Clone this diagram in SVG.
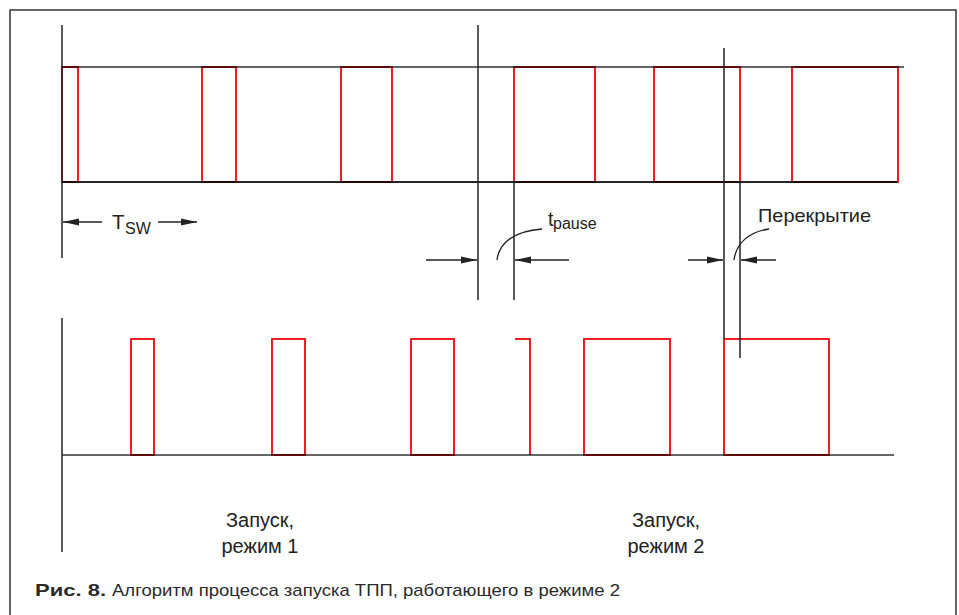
<svg xmlns="http://www.w3.org/2000/svg" width="959" height="615" viewBox="0 0 959 615">
<defs>
<style>
.frame{fill:none;stroke:#333;stroke-width:1.5}
.ax{fill:none;stroke:#222;stroke-width:1.5}
.hl{fill:none;stroke:#000;stroke-width:2;stroke-opacity:0.6}
.hd{fill:none;stroke:#000;stroke-width:1.8;stroke-opacity:0.85}
.p{fill:none;stroke:#ee1c25;stroke-width:2}
.dim{fill:none;stroke:#222;stroke-width:1.3}
.arr{fill:none;stroke:#222;stroke-width:1.3;marker-end:url(#ah)}
.t{font-family:"Liberation Sans",Arial,sans-serif;fill:#222}
.cap{font-family:"Liberation Sans",Arial,sans-serif;fill:#2a2a2a}
</style>
<marker id="ah" markerUnits="userSpaceOnUse" markerWidth="16" markerHeight="8" refX="16" refY="4" orient="auto">
<path d="M0,0.5 L16,4 L0,7.5 z" fill="#222"/>
</marker>
</defs>
<rect class="frame" x="10" y="10" width="946" height="640"/>
<g id="top-signal">
<rect class="p" x="62" y="67" width="16" height="115"/>
<rect class="p" x="202" y="67" width="34" height="115"/>
<rect class="p" x="341" y="67" width="51" height="115"/>
<rect class="p" x="514" y="67" width="81" height="115"/>
<rect class="p" x="654" y="67" width="86" height="115"/>
<rect class="p" x="792" y="67" width="106" height="115"/>
<line class="hl" x1="62" y1="67" x2="904" y2="67"/>
<line class="hd" x1="62" y1="182" x2="897" y2="182"/>
</g>
<g id="bottom-signal">
<rect class="p" x="131" y="339" width="23" height="116"/>
<rect class="p" x="272" y="339" width="33" height="116"/>
<rect class="p" x="411" y="339" width="43" height="116"/>
<path class="p" d="M515,339 L530,339 L530,455"/>
<rect class="p" x="584" y="339" width="86" height="116"/>
<rect class="p" x="724" y="339" width="105" height="116"/>
<line class="hl" x1="62" y1="455" x2="894" y2="455"/>
</g>
<g id="connectors">
<line class="ax" x1="62" y1="25" x2="62" y2="258"/>
<line class="ax" x1="62" y1="318" x2="62" y2="552"/>
<line class="ax" x1="478" y1="25" x2="478" y2="300"/>
<line class="ax" x1="514" y1="182" x2="514" y2="300"/>
<line class="ax" x1="724" y1="48" x2="724" y2="339" stroke="#555"/>
<line class="ax" x1="740" y1="182" x2="740" y2="358"/>
<line class="arr" x1="102" y1="222" x2="63" y2="222"/>
<line class="arr" x1="158" y1="222" x2="197" y2="222"/>
<line class="arr" x1="426" y1="260" x2="477" y2="260"/>
<line class="arr" x1="569" y1="260" x2="515" y2="260"/>
<line class="arr" x1="688" y1="260" x2="723" y2="260"/>
<line class="arr" x1="776" y1="260" x2="741" y2="260"/>
<path class="dim" d="M497,260 C499,243 514,231 542,229"/>
<path class="dim" d="M734,260 C736,244 748,232 769,229"/>
</g>
<g id="labels">
<text class="t" x="112" y="229" font-size="20.5">T</text>
<text class="t" x="125" y="234" font-size="16">SW</text>
<text class="t" x="548" y="226" font-size="19.5">t</text>
<text class="t" x="553" y="229" font-size="16">pause</text>
<text class="t" x="758" y="222" font-size="18.5" textLength="113" lengthAdjust="spacingAndGlyphs">Перекрытие</text>
<text class="t" x="260" y="527" font-size="20" text-anchor="middle">Запуск,</text>
<text class="t" x="260" y="553" font-size="20" text-anchor="middle">режим 1</text>
<text class="t" x="666" y="527" font-size="20" text-anchor="middle">Запуск,</text>
<text class="t" x="666" y="553" font-size="20" text-anchor="middle">режим 2</text>
</g>
<g id="caption">
<text class="cap" x="35" y="596" font-size="17" font-weight="bold" textLength="71" lengthAdjust="spacingAndGlyphs">Рис. 8.</text>
<text class="cap" x="112" y="596" font-size="17" textLength="508" lengthAdjust="spacingAndGlyphs">Алгоритм процесса запуска ТПП, работающего в режиме 2</text>
</g>
</svg>
